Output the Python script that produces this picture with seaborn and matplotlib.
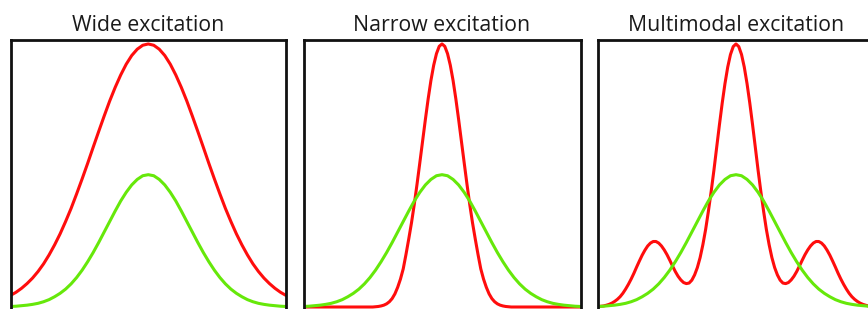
import matplotlib
matplotlib.use("Agg")
import matplotlib.pyplot as plt
import seaborn as sns
import pandas as pd

# x positions (percent of panel width)
x_coarse = list(range(0, 101, 2))
x_fine = list(range(0, 101, 1))

# green response (same in every panel), on x_coarse
green_vals = [0.2, 0.3, 0.5, 0.7, 1.0, 1.4, 2.0, 2.8, 3.9, 5.2, 6.8, 8.8, 11.2, 14.0, 17.2,
              20.7, 24.5, 28.5, 32.5, 36.5, 40.3, 43.6, 46.4, 48.5, 49.9, 50.3, 49.9, 48.5,
              46.4, 43.6, 40.3, 36.5, 32.5, 28.5, 24.5, 20.7, 17.2, 14.0, 11.2, 8.8, 6.8,
              5.2, 3.9, 2.8, 2.0, 1.4, 1.0, 0.7, 0.5, 0.3, 0.2]

# red: wide excitation, on x_coarse
red_wide = [4.4, 5.6, 7.1, 8.9, 11.0, 13.5, 16.4, 19.8, 23.6, 27.8, 32.5, 37.5, 43.0, 48.7,
            54.6, 60.7, 66.7, 72.6, 78.3, 83.5, 88.2, 92.3, 95.6, 98.0, 99.5, 100.0, 99.5,
            98.0, 95.6, 92.3, 88.2, 83.5, 78.3, 72.6, 66.7, 60.7, 54.6, 48.7, 43.0, 37.5,
            32.5, 27.8, 23.6, 19.8, 16.4, 13.5, 11.0, 8.9, 7.1, 5.6, 4.4]

# red: narrow excitation, on x_fine
red_narrow = [0, 0, 0, 0, 0, 0, 0, 0, 0, 0, 0, 0, 0, 0, 0, 0, 0, 0, 0, 0, 0, 0, 0, 0, 0,
              0.0, 0.1, 0.2, 0.4, 0.7, 1.2, 2.0, 3.2, 5.0, 7.5, 10.6, 14.5, 20.0, 25.9, 32.1,
              39.1, 46.8, 54.9, 63.1, 71.3, 79.1, 86.1, 91.9, 96.3, 99.1,
              100.0,
              99.1, 96.3, 91.9, 86.1, 79.1, 71.3, 63.1, 54.9, 46.8, 39.1, 32.1, 25.9, 20.0,
              14.5, 10.6, 7.5, 5.0, 3.2, 2.0, 1.2, 0.7, 0.4, 0.2, 0.1, 0.0,
              0, 0, 0, 0, 0, 0, 0, 0, 0, 0, 0, 0, 0, 0, 0, 0, 0, 0, 0, 0, 0, 0, 0, 0, 0]

# red: multimodal excitation, on x_fine
red_multi = [0.17, 0.28, 0.4, 0.67, 1.0, 1.46, 2.1, 2.9, 3.9, 5.2, 6.8, 8.6, 10.6, 12.8, 15.2,
             17.5, 19.7, 21.6, 23.2, 24.3, 24.9, 24.9, 24.3, 23.2, 21.7, 19.9, 17.8, 15.6,
             13.5, 11.7, 10.3, 9.3, 8.9, 9.1, 10.2, 12.2, 15.0, 18.8, 23.7, 29.5, 36.4, 43.9,
             52.0, 60.7, 69.3, 77.5, 84.9, 91.2, 96.0, 99.0,
             100.0,
             99.0, 96.0, 91.2, 84.9, 77.5, 69.3, 60.7, 52.0, 43.9, 36.4, 29.5, 23.7, 18.8,
             15.0, 12.2, 10.2, 9.1, 8.9, 9.3, 10.3, 11.7, 13.5, 15.6, 17.8, 19.9, 21.7, 23.2,
             24.3, 24.9, 24.9, 24.3, 23.2, 21.6, 19.7, 17.5, 15.2, 12.8, 10.6, 8.6, 6.8, 5.2,
             3.9, 2.9, 2.1, 1.46, 1.0, 0.67, 0.4, 0.28, 0.17]

titles = ["Wide excitation", "Narrow excitation", "Multimodal excitation"]
red_series = [(x_coarse, red_wide), (x_fine, red_narrow), (x_fine, red_multi)]

RED = "#ff0d0d"
GREEN = "#66e80a"

sns.set_style("white")
plt.rcParams["font.family"] = ["Open Sans", "DejaVu Sans"]

W, H = 868, 309
fig = plt.figure(figsize=(W / 100, H / 100), dpi=100)

panels = [(10.5, 275.5), (303.5, 277.0), (598.0, 276.0)]
top_px, bot_px = 40.0, 312.0

for (lx, wx), title, (rx, ry) in zip(panels, titles, red_series):
    ax = fig.add_axes([lx / W, (H - bot_px) / H, wx / W, (bot_px - top_px) / H])
    df_red = pd.DataFrame({"x": rx, "y": ry})
    df_green = pd.DataFrame({"x": x_coarse, "y": green_vals})
    sns.lineplot(data=df_red, x="x", y="y", color=RED, linewidth=2.2, ax=ax)
    sns.lineplot(data=df_green, x="x", y="y", color=GREEN, linewidth=2.2, ax=ax)
    ax.set_xlim(0, 100)
    ax.set_ylim(-1.9, 101.5)
    ax.set_xticks([])
    ax.set_yticks([])
    ax.set_xlabel("")
    ax.set_ylabel("")
    for s in ax.spines.values():
        s.set_visible(True)
        s.set_color("#111111")
        s.set_linewidth(2.0)
    ax.set_title(title, fontsize=15.3, color="#1a1a1a", pad=6.5)

fig.savefig("out.png", dpi=100)
